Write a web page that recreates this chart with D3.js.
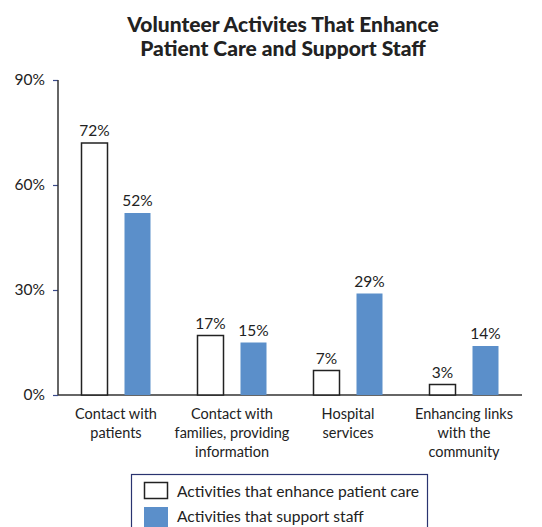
<!DOCTYPE html>
<html>
<head>
<meta charset="utf-8">
<script src="https://cdn.jsdelivr.net/npm/d3@7/dist/d3.min.js"></script>
<style>
body{margin:0;background:#fff;}
svg{display:block;font-family:Lato,"Open Sans",sans-serif;}
</style>
</head>
<body>
<svg id="chart" width="542" height="527"></svg>
<script>
const categories = [
  ["Contact with","patients"],
  ["Contact with","families, providing","information"],
  ["Hospital","services"],
  ["Enhancing links","with the","community"]
];
const seriesNames = ["Activities that enhance patient care","Activities that support staff"];
const patientCare = [72, 17, 7, 3];
const supportStaff = [52, 15, 29, 14];
const yTicks = [0, 30, 60, 90];

const svg = d3.select("#chart");
const blue = "#5b8fca";

const x = d3.scaleBand().domain(d3.range(categories.length)).range([58, 522]);
const y = d3.scaleLinear().domain([0, 90]).range([395, 80]);

// title
svg.append("text").attr("x",283).attr("y",32).attr("text-anchor","middle")
  .attr("font-size",21).attr("font-weight","900").attr("fill","#222")
  .text("Volunteer Activites That Enhance");
svg.append("text").attr("x",283).attr("y",56).attr("text-anchor","middle")
  .attr("font-size",21).attr("font-weight","900").attr("fill","#222")
  .text("Patient Care and Support Staff");

// y axis
const yAxis = d3.axisLeft(y).tickValues(yTicks).tickSize(5).tickFormat(d => d + "%");
const yg = svg.append("g").attr("transform","translate(58,0)").call(yAxis);
yg.select(".domain").remove();
yg.selectAll(".tick line").attr("stroke","#3a4a8a").attr("stroke-width",1.2);
yg.selectAll(".tick text").attr("font-size",15.5).attr("fill","#222").attr("x",-13)
  .attr("font-family","Lato, sans-serif");
svg.append("line").attr("x1",58).attr("x2",58).attr("y1",y(90)).attr("y2",y(0))
  .attr("stroke","#333").attr("stroke-width",1.5);
svg.append("line").attr("x1",58).attr("x2",522).attr("y1",y(0)).attr("y2",y(0))
  .attr("stroke","#333").attr("stroke-width",1.5);

const bw = 26, off = 21.5;
const cx = i => x(i) + x.bandwidth()/2;

// bars
const g = svg.append("g");
g.selectAll(".pc").data(patientCare).join("rect")
  .attr("x",(d,i)=>cx(i)-off-bw/2).attr("y",d=>y(d))
  .attr("width",bw).attr("height",d=>y(0)-y(d))
  .attr("fill","#fff").attr("stroke","#222").attr("stroke-width",1.5);
g.selectAll(".ss").data(supportStaff).join("rect")
  .attr("x",(d,i)=>cx(i)+off-bw/2).attr("y",d=>y(d))
  .attr("width",bw).attr("height",d=>y(0)-y(d))
  .attr("fill",blue);

// value labels
g.selectAll(".pcl").data(patientCare).join("text")
  .attr("x",(d,i)=>cx(i)-off).attr("y",d=>y(d)-7).attr("text-anchor","middle")
  .attr("font-size",15.5).attr("fill","#222").text(d=>d+"%");
g.selectAll(".ssl").data(supportStaff).join("text")
  .attr("x",(d,i)=>cx(i)+off).attr("y",d=>y(d)-7).attr("text-anchor","middle")
  .attr("font-size",15.5).attr("fill","#222").text(d=>d+"%");

// category labels
categories.forEach((lines,i)=>{
  const t = svg.append("text").attr("text-anchor","middle").attr("font-size",14.5).attr("fill","#222");
  lines.forEach((l,j)=>{
    t.append("tspan").attr("x",cx(i)).attr("y",419+j*19).text(l);
  });
});

// legend
svg.append("rect").attr("x",131.5).attr("y",474.5).attr("width",296).attr("height",60)
  .attr("fill","#fff").attr("stroke","#2a3470").attr("stroke-width",1.2);
svg.append("rect").attr("x",144.5).attr("y",482.5).attr("width",23).attr("height",16)
  .attr("fill","#fff").attr("stroke","#222").attr("stroke-width",1.5);
svg.append("rect").attr("x",144).attr("y",507).attr("width",24).attr("height",22)
  .attr("fill",blue);
svg.append("text").attr("x",177).attr("y",497).attr("font-size",15.6).attr("fill","#222").text(seriesNames[0]);
svg.append("text").attr("x",177).attr("y",522).attr("font-size",15.6).attr("fill","#222").text(seriesNames[1]);
</script>
</body>
</html>
